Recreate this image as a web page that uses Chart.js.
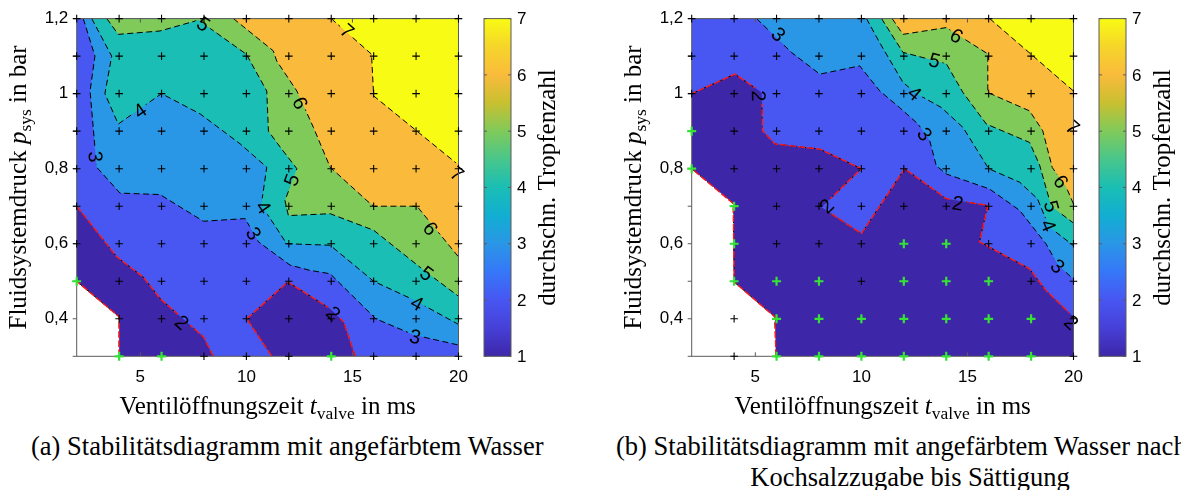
<!DOCTYPE html>
<html>
<head>
<meta charset="utf-8">
<title>Stabilitätsdiagramm</title>
<script src="https://cdn.jsdelivr.net/npm/chart.js@4.4.1/dist/chart.umd.min.js"></script>
<style>
  body { margin: 0; background: #fff; }
  #page { position: relative; width: 1181px; height: 490px; overflow: hidden; }
  canvas { position: absolute; top: 0; }
  #chartA { left: 0; }
  #chartB { left: 615px; }
  .cap { position: absolute; font: 26.5px/31px "Liberation Serif", "Times New Roman", serif; white-space: nowrap; color: #000; }
</style>
</head>
<body>
<div id="page">
  <canvas id="chartA" width="615" height="425"></canvas>
  <canvas id="chartB" width="566" height="425"></canvas>
  <div class="cap" style="left:31px;top:431px">(a) Stabilitätsdiagramm mit angefärbtem Wasser</div>
  <div class="cap" style="left:616px;top:431px">(b) Stabilitätsdiagramm mit angefärbtem Wasser nach</div>
  <div class="cap" style="left:664px;width:492px;top:462px;text-align:center">Kochsalzzugabe bis Sättigung</div>
</div>
<script>
// measurement grid
const tValve = [2, 4, 6, 8, 10, 12, 14, 16, 18, 20];           // ms
const pSys = [0.3, 0.4, 0.5, 0.6, 0.7, 0.8, 0.9, 1.0, 1.1, 1.2]; // bar
const xTicks = [5, 10, 15, 20];
const yTicks = [0.4, 0.6, 0.8, 1, 1.2];
const barTicks = [1, 2, 3, 4, 5, 6, 7];
const levels = [1, 2, 3, 4, 5, 6, 7];

// (a) outlines of the areas with mean drop count >= level
const regA1 = [[2, 0.5], [2, 1.2], [20, 1.2], [20, 0.3], [4, 0.3], [4, 0.405]];
const regA2 = [[2, 0.7], [2, 1.2], [20, 1.2], [20, 0.3], [15.13, 0.3], [14.58, 0.392], [13.95, 0.427],
  [11.95, 0.498], [10.02, 0.4], [11.2, 0.3], [8.44, 0.3], [7.97, 0.352], [5.93, 0.454], [5.14, 0.511], [3.89, 0.565]];
const regA3 = [[2.31, 1.2], [2.86, 1.1], [2.63, 1.007], [2.94, 0.804], [4.04, 0.735], [5.93, 0.731], [7.97, 0.66],
  [9.94, 0.667], [10.57, 0.605], [12.06, 0.543], [13.0, 0.529], [13.95, 0.52], [16.1, 0.4], [17.9, 0.357], [20, 0.33], [20, 1.2]];
const regA4 = [[2.71, 1.2], [3.65, 1.1], [3.33, 1.0], [3.96, 0.919], [6.0, 1.0], [7.82, 0.946], [9.71, 0.866],
  [10.96, 0.804], [10.7, 0.702], [11.15, 0.665], [11.9, 0.6], [13.95, 0.596], [16, 0.5], [17.9, 0.45], [20, 0.385], [20, 1.2]];
const regA5 = [[3.42, 1.2], [3.96, 1.158], [5.93, 1.167], [7.74, 1.196], [10.0, 1.105], [10.96, 1.007], [11.04, 0.9],
  [11.6, 0.857], [12.38, 0.8], [11.82, 0.715], [11.98, 0.675], [13.95, 0.68], [16, 0.636], [18.35, 0.53], [20, 0.46], [20, 1.2]];
const regA6 = [[9.39, 1.2], [11.27, 1.114], [11.43, 1.087], [12.38, 1.007], [13.16, 0.91], [13.95, 0.804],
  [15.68, 0.715], [16, 0.7], [18.04, 0.7], [20, 0.565], [20, 1.2]];
const regA7 = [[14.0, 1.2], [15.9, 1.105], [16, 0.994], [20, 0.81], [20, 1.2]];

// (b) same after adding salt
const regB1 = [[2, 0.8], [2, 1.2], [20, 1.2], [20, 0.3], [5.97, 0.3], [5.92, 0.405], [4, 0.498], [3.96, 0.707]];
const regB2 = [[2, 1.0], [2, 1.2], [20, 1.2], [20, 0.405], [18.71, 0.475], [17.93, 0.533], [15.57, 0.605],
  [15.96, 0.702], [14, 0.72], [12.04, 0.8], [10, 0.627], [8.12, 0.697], [10, 0.8], [8.04, 0.852], [5.92, 0.866],
  [5.34, 0.901], [5.3, 1.003], [4.04, 1.052]];
const regB3 = [[5.06, 1.2], [6.7, 1.11], [8.04, 1.052], [9.92, 1.074], [10.87, 1.007], [11.8, 0.963], [12.67, 0.919],
  [13.22, 0.875], [13.53, 0.808], [14.0, 0.786], [16.04, 0.746], [17.46, 0.689], [18.7, 0.6], [19.25, 0.545], [20, 0.505], [20, 1.2]];
const regB4 = [[10.24, 1.2], [10.87, 1.135], [11.96, 1.03], [12.6, 1.0], [13.77, 0.963], [14.79, 0.91], [16.0, 0.8],
  [17.46, 0.764], [18.3, 0.72], [18.85, 0.645], [20, 0.595], [20, 1.2]];
const regB5 = [[10.95, 1.2], [11.96, 1.11], [14.0, 1.08], [14.79, 1.003], [15.89, 0.919], [17.93, 0.87], [18.4, 0.81],
  [18.95, 0.7], [20, 0.655], [20, 1.2]];
const regB6 = [[11.45, 1.2], [11.96, 1.158], [14.0, 1.176], [15.96, 1.106], [15.96, 1.003], [17.93, 0.954],
  [18.55, 0.901], [19.0, 0.803], [19.65, 0.752], [20, 0.706], [20, 1.2]];
const regB7 = [[16.05, 1.2], [18.0, 1.105], [20, 1.007], [20, 1.2]];

// contour labels: [level, t, p]
const labA = [[5, 7.97, 1.185], [4, 4.99, 0.954], [3, 2.87, 0.832], [6, 12.53, 0.975], [7, 14.74, 1.167],
  [7, 19.93, 0.786], [5, 12.14, 0.77], [4, 10.8, 0.697], [3, 10.33, 0.627], [2, 6.95, 0.39], [2, 14.1, 0.414],
  [6, 18.67, 0.64], [5, 18.5, 0.52], [4, 18.04, 0.441], [3, 17.95, 0.352]];
const labB = [[3, 6.08, 1.158], [2, 5.14, 0.994], [2, 8.36, 0.7], [2, 14.55, 0.707], [2, 19.9, 0.39],
  [3, 12.98, 0.892], [4, 12.5, 1.0], [5, 13.45, 1.088], [6, 14.48, 1.154], [7, 19.95, 0.91],
  [6, 19.4, 0.765], [5, 18.95, 0.7], [4, 18.8, 0.648], [3, 19.25, 0.54]];

// measuring points with a single stable drop, and points without a measurement
const greenA = [[2, 0.5], [4, 0.3], [6, 0.3], [14, 0.3]];
const missingA = [[2, 0.3], [2, 0.4]];
const greenB = [[2, 0.9], [2, 0.8], [4, 0.7], [4, 0.6], [4, 0.5], [6, 0.5], [8, 0.5], [12, 0.5], [14, 0.5], [16, 0.5],
  [12, 0.6], [14, 0.6], [6, 0.4], [8, 0.4], [10, 0.4], [12, 0.4], [14, 0.4], [16, 0.4], [18, 0.4],
  [6, 0.3], [8, 0.3], [10, 0.3], [12, 0.3], [14, 0.3], [16, 0.3], [18, 0.3]];
const missingB = [[2, 0.3], [2, 0.4], [2, 0.5], [2, 0.6], [2, 0.7]];

const bandColors = ['#3e26a8', '#4856f2', '#2a96e6', '#1abeb4', '#80ca5a', '#fabb3c', '#f8fb14'];
const parulaStops = [
  [0, '#3e26a8'], [0.083, '#4640d7'], [0.167, '#4856f2'], [0.25, '#3677f8'], [0.333, '#2a96e6'],
  [0.417, '#12aed2'], [0.5, '#1abeb4'], [0.583, '#48c68c'], [0.667, '#80ca5a'], [0.75, '#c8c030'],
  [0.833, '#fabb3c'], [0.917, '#f6d52a'], [1, '#f8fb14']
];

const SANS = '"Liberation Sans", Arial, sans-serif';
const SERIF = '"Liberation Serif", "Times New Roman", serif';
const xMin = tValve[0], xMax = tValve[tValve.length - 1];
const yMin = pSys[0], yMax = pSys[pSys.length - 1];
const fmt = v => String(v).replace('.', ',');

const onEdge = (p, q) =>
  (p[0] === xMin && q[0] === xMin) || (p[0] === xMax && q[0] === xMax) ||
  (p[1] === yMin && q[1] === yMin) || (p[1] === yMax && q[1] === yMax);

// the parts of an outline that are contour lines (not the plot frame)
function contourRuns(reg) {
  const n = reg.length;
  let start = -1;
  for (let i = 0; i < n; i++) if (onEdge(reg[i], reg[(i + 1) % n])) { start = i; break; }
  if (start < 0) return [reg.concat([reg[0]])];
  const runs = [];
  let cur = null;
  for (let k = 1; k <= n; k++) {
    const i = (start + k) % n, j = (i + 1) % n;
    if (onEdge(reg[i], reg[j])) {
      if (cur) { runs.push(cur); cur = null; }
    } else {
      if (!cur) cur = [reg[i]];
      cur.push(reg[j]);
    }
  }
  if (cur) runs.push(cur);
  return runs;
}

function segDist(px, py, ax, ay, bx, by) {
  const dx = bx - ax, dy = by - ay;
  const l2 = dx * dx + dy * dy || 1;
  let t = ((px - ax) * dx + (py - ay) * dy) / l2;
  t = Math.max(0, Math.min(1, t));
  return Math.hypot(px - ax - t * dx, py - ay - t * dy);
}

function drawRich(ctx, parts, cx, baseY) {
  let total = 0;
  parts.forEach(p => { ctx.font = p.font; p.w = ctx.measureText(p.text).width; total += p.w; });
  let xx = cx - total / 2;
  ctx.textAlign = 'left';
  ctx.textBaseline = 'alphabetic';
  parts.forEach(p => { ctx.font = p.font; ctx.fillText(p.text, xx, baseY + (p.dy || 0)); xx += p.w; });
}

function contourPlugin(regions, labels) {
  const runs = regions.map(contourRuns);
  const labelFont = '20px ' + SANS;
  return {
    id: 'contours',
    beforeDatasetsDraw(chart) {
      const { ctx, chartArea: a, scales: { x, y } } = chart;
      const pix = p => [x.getPixelForValue(p[0]), y.getPixelForValue(p[1])];
      ctx.save();
      ctx.beginPath();
      ctx.rect(a.left, a.top, a.width, a.height);
      ctx.clip();

      // filled bands, lowest level first
      regions.forEach((reg, i) => {
        ctx.beginPath();
        reg.forEach((p, j) => { const [u, v] = pix(p); j ? ctx.lineTo(u, v) : ctx.moveTo(u, v); });
        ctx.closePath();
        ctx.fillStyle = bandColors[i];
        ctx.fill();
      });

      // label placement along the nearest line piece
      ctx.font = labelFont;
      const boxes = labels.map(([lev, lx, ly]) => {
        const [u, v] = pix([lx, ly]);
        let best = Infinity, ang = 0;
        runs[lev - 1].forEach(run => {
          for (let k = 0; k + 1 < run.length; k++) {
            const [ax, ay] = pix(run[k]), [bx, by] = pix(run[k + 1]);
            const d = segDist(u, v, ax, ay, bx, by);
            if (d < best) { best = d; ang = Math.atan2(by - ay, bx - ax); }
          }
        });
        if (ang > Math.PI / 2) ang -= Math.PI;
        if (ang < -Math.PI / 2) ang += Math.PI;
        return { text: String(lev), u, v, ang, w: ctx.measureText(String(lev)).width + 5, h: 17 };
      });

      // keep the lines out of the label boxes
      ctx.beginPath();
      ctx.rect(a.left - 20, a.top - 20, a.width + 40, a.height + 40);
      boxes.forEach(b => {
        const c = Math.cos(b.ang), s = Math.sin(b.ang);
        const pts = [[-b.w / 2, -b.h / 2], [b.w / 2, -b.h / 2], [b.w / 2, b.h / 2], [-b.w / 2, b.h / 2]];
        pts.forEach(([dx, dy], k) => {
          const X = b.u + dx * c - dy * s, Y = b.v + dx * s + dy * c;
          k ? ctx.lineTo(X, Y) : ctx.moveTo(X, Y);
        });
        ctx.closePath();
      });
      ctx.clip('evenodd');

      const strokeRuns = (rs) => rs.forEach(run => {
        ctx.beginPath();
        run.forEach((p, j) => { const [u, v] = pix(p); j ? ctx.lineTo(u, v) : ctx.moveTo(u, v); });
        ctx.stroke();
      });
      runs.forEach((rs, i) => {
        ctx.strokeStyle = '#000';
        ctx.lineWidth = 1;
        ctx.setLineDash([6, 3.5]);
        strokeRuns(rs);
        if (levels[i] <= 2) {
          // stability boundary on top in red
          ctx.strokeStyle = '#ff1a1a';
          ctx.lineWidth = 1.4;
          ctx.setLineDash([7, 2]);
          strokeRuns(rs);
        }
      });
      ctx.restore();

      // label text
      ctx.save();
      ctx.fillStyle = '#000';
      ctx.font = labelFont;
      ctx.textAlign = 'center';
      ctx.textBaseline = 'middle';
      boxes.forEach(b => {
        ctx.save();
        ctx.translate(b.u, b.v);
        ctx.rotate(b.ang);
        ctx.fillText(b.text, 0, 1);
        ctx.restore();
      });

      // axes frame and ticks
      ctx.strokeStyle = '#5a5a5a';
      ctx.lineWidth = 1;
      ctx.strokeRect(a.left, a.top, a.width, a.height);
      ctx.beginPath();
      xTicks.forEach(t => {
        const u = x.getPixelForValue(t);
        ctx.moveTo(u, a.bottom); ctx.lineTo(u, a.bottom - 4);
        ctx.moveTo(u, a.top); ctx.lineTo(u, a.top + 4);
      });
      pSys.forEach(p => {
        const v = y.getPixelForValue(p);
        ctx.moveTo(a.left - 4, v); ctx.lineTo(a.left, v);
      });
      ctx.stroke();
      ctx.restore();
    },
    afterDraw(chart) {
      const { ctx, chartArea: a, scales: { c } } = chart;
      const cy = (a.top + a.bottom) / 2;
      ctx.save();
      ctx.fillStyle = '#000';

      // colour bar
      const bx = a.right + 25.5, bw = 27;
      const top = c.getPixelForValue(7), bot = c.getPixelForValue(1);
      const grad = ctx.createLinearGradient(0, bot, 0, top);
      parulaStops.forEach(([t, col]) => grad.addColorStop(t, col));
      ctx.fillStyle = grad;
      ctx.fillRect(bx, top, bw, bot - top);
      ctx.strokeStyle = '#5a5a5a';
      ctx.lineWidth = 1;
      ctx.strokeRect(bx, top, bw, bot - top);
      ctx.beginPath();
      barTicks.forEach(v => {
        const yy = c.getPixelForValue(v);
        ctx.moveTo(bx + bw, yy); ctx.lineTo(bx + bw - 3, yy);
        ctx.moveTo(bx, yy); ctx.lineTo(bx + 3, yy);
      });
      ctx.stroke();
      ctx.fillStyle = '#000';
      ctx.font = '17px ' + SANS;
      ctx.textAlign = 'left';
      ctx.textBaseline = 'middle';
      barTicks.forEach(v => ctx.fillText(String(v), bx + bw + 6, c.getPixelForValue(v) + 1));

      // colour bar title
      ctx.save();
      ctx.translate(a.right + 96.5, cy);
      ctx.rotate(-Math.PI / 2);
      drawRich(ctx, [{ text: 'durchschn. Tropfenzahl', font: '25px ' + SERIF }], 0, 0);
      ctx.restore();

      // axis titles
      ctx.save();
      ctx.translate(25.5, cy);
      ctx.rotate(-Math.PI / 2);
      drawRich(ctx, [
        { text: 'Fluidsystemdruck ', font: '25px ' + SERIF },
        { text: 'p', font: 'italic 25px ' + SERIF },
        { text: 'sys', font: '17.5px ' + SERIF, dy: 5 },
        { text: ' in bar', font: '25px ' + SERIF }
      ], 0, 0);
      ctx.restore();

      drawRich(ctx, [
        { text: 'Ventilöffnungszeit ', font: '25px ' + SERIF },
        { text: 't', font: 'italic 25px ' + SERIF },
        { text: 'valve', font: '17.5px ' + SERIF, dy: 5 },
        { text: ' in ms', font: '25px ' + SERIF }
      ], (a.left + a.right) / 2, 414);
      ctx.restore();
    }
  };
}

function makePanel(id, regions, labels, green, missing) {
  const canvas = document.getElementById(id);
  const W = canvas.width, H = canvas.height;
  const same = (p, q) => Math.abs(p[0] - q[0]) < 1e-9 && Math.abs(p[1] - q[1]) < 1e-9;
  const black = [];
  tValve.forEach(t => pSys.forEach(p => {
    const pt = [t, p];
    if (!green.some(g => same(g, pt)) && !missing.some(m => same(m, pt))) black.push({ x: t, y: p });
  }));
  const greenPts = green.map(([t, p]) => ({ x: t, y: p }));

  return new Chart(canvas, {
    type: 'scatter',
    data: {
      datasets: [
        { data: greenPts, pointStyle: 'cross', pointRadius: 4.5, pointBorderWidth: 2.2,
          pointBorderColor: '#35e335', pointBackgroundColor: '#35e335', clip: false },
        { data: black, pointStyle: 'cross', pointRadius: 3.8, pointBorderWidth: 1.1,
          pointBorderColor: '#000', pointBackgroundColor: '#000', clip: false }
      ]
    },
    options: {
      responsive: false,
      animation: false,
      events: [],
      devicePixelRatio: 1,
      layout: { padding: { left: 0, top: 17.5, right: W - 458.5, bottom: 0 } },
      plugins: { legend: { display: false }, tooltip: { enabled: false } },
      scales: {
        x: {
          type: 'linear', min: xMin, max: xMax,
          afterBuildTicks: s => { s.ticks = xTicks.map(v => ({ value: v })); },
          afterFit: s => { s.height = H - 356.3; },
          grid: { display: false, drawTicks: false },
          border: { display: false },
          ticks: { color: '#000', font: { family: SANS, size: 17 }, padding: 11, maxRotation: 0, autoSkip: false, callback: v => fmt(v) }
        },
        y: {
          type: 'linear', min: yMin, max: yMax,
          afterBuildTicks: s => { s.ticks = yTicks.map(v => ({ value: v })); },
          afterFit: s => { s.width = 76.7; },
          grid: { display: false, drawTicks: false },
          border: { display: false },
          ticks: { color: '#000', font: { family: SANS, size: 17 }, padding: 8.4, autoSkip: false, callback: v => fmt(v) }
        },
        c: { type: 'linear', axis: 'y', min: levels[0], max: levels[levels.length - 1], display: false }
      }
    },
    plugins: [contourPlugin(regions, labels)]
  });
}

makePanel('chartA', [regA1, regA2, regA3, regA4, regA5, regA6, regA7], labA, greenA, missingA);
makePanel('chartB', [regB1, regB2, regB3, regB4, regB5, regB6, regB7], labB, greenB, missingB);
</script>
</body>
</html>
